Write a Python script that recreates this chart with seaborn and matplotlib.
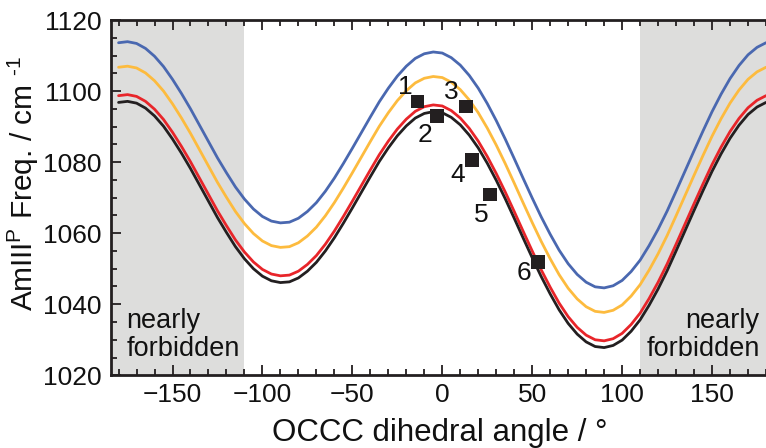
import matplotlib
matplotlib.use("Agg")
import matplotlib.pyplot as plt
from matplotlib.ticker import MultipleLocator
import pandas as pd
import seaborn as sns

# OCCC dihedral angle grid (degrees)
angle = list(range(-180, 185, 5))

freq_blue = [
    1113.6, 1113.9, 1113.4, 1112.0, 1109.8, 1106.9, 1103.3, 1099.3, 1095.0, 1090.4,
    1085.8, 1081.2, 1077.0, 1073.0, 1069.6, 1066.8, 1064.7, 1063.4, 1062.9, 1063.1,
    1064.2, 1066.1, 1068.6, 1071.8, 1075.5, 1079.6, 1083.9, 1088.3, 1092.7, 1097.0,
    1100.8, 1104.2, 1107.0, 1109.2, 1110.5, 1111.0, 1110.7, 1109.4, 1107.3, 1104.4,
    1100.8, 1096.5, 1091.7, 1086.5, 1081.0, 1075.4, 1069.9, 1064.6, 1059.7, 1055.2,
    1051.4, 1048.4, 1046.2, 1044.9, 1044.6, 1045.2, 1046.7, 1049.2, 1052.4, 1056.5,
    1061.1, 1066.2, 1071.8, 1077.5, 1083.2, 1088.8, 1094.2, 1099.1, 1103.5, 1107.2,
    1110.2, 1112.3, 1113.6,
]
freq_orange = [
    1106.7, 1107.0, 1106.5, 1105.1, 1102.9, 1100.0, 1096.4, 1092.4, 1088.1, 1083.5,
    1078.9, 1074.3, 1070.1, 1066.1, 1062.7, 1059.9, 1057.8, 1056.5, 1056.0, 1056.2,
    1057.3, 1059.2, 1061.7, 1064.9, 1068.6, 1072.7, 1077.0, 1081.4, 1085.8, 1090.1,
    1093.9, 1097.3, 1100.1, 1102.3, 1103.6, 1104.1, 1103.8, 1102.5, 1100.4, 1097.5,
    1093.9, 1089.6, 1084.8, 1079.6, 1074.1, 1068.5, 1063.0, 1057.7, 1052.8, 1048.3,
    1044.5, 1041.5, 1039.3, 1038.0, 1037.7, 1038.3, 1039.8, 1042.3, 1045.5, 1049.6,
    1054.2, 1059.3, 1064.9, 1070.6, 1076.3, 1081.9, 1087.3, 1092.2, 1096.6, 1100.3,
    1103.3, 1105.4, 1106.7,
]
freq_red = [
    1098.7, 1099.0, 1098.5, 1097.1, 1094.9, 1092.0, 1088.4, 1084.4, 1080.1, 1075.5,
    1070.9, 1066.3, 1062.1, 1058.1, 1054.7, 1051.9, 1049.8, 1048.5, 1048.0, 1048.2,
    1049.3, 1051.2, 1053.7, 1056.9, 1060.6, 1064.7, 1069.0, 1073.4, 1077.8, 1082.1,
    1085.9, 1089.3, 1092.1, 1094.3, 1095.6, 1096.1, 1095.8, 1094.5, 1092.4, 1089.5,
    1085.9, 1081.6, 1076.8, 1071.6, 1066.1, 1060.5, 1055.0, 1049.7, 1044.8, 1040.3,
    1036.5, 1033.5, 1031.3, 1030.0, 1029.7, 1030.3, 1031.8, 1034.3, 1037.5, 1041.6,
    1046.2, 1051.3, 1056.9, 1062.6, 1068.3, 1073.9, 1079.3, 1084.2, 1088.6, 1092.3,
    1095.3, 1097.4, 1098.7,
]
freq_black = [
    1096.8, 1097.1, 1096.6, 1095.2, 1093.0, 1090.1, 1086.5, 1082.5, 1078.2, 1073.6,
    1069.0, 1064.4, 1060.2, 1056.2, 1052.8, 1050.0, 1047.9, 1046.6, 1046.1, 1046.3,
    1047.4, 1049.3, 1051.8, 1055.0, 1058.7, 1062.8, 1067.1, 1071.5, 1075.9, 1080.2,
    1084.0, 1087.4, 1090.2, 1092.4, 1093.7, 1094.2, 1093.9, 1092.6, 1090.5, 1087.6,
    1084.0, 1079.7, 1074.9, 1069.7, 1064.2, 1058.6, 1053.1, 1047.8, 1042.9, 1038.4,
    1034.6, 1031.6, 1029.4, 1028.1, 1027.8, 1028.4, 1029.9, 1032.4, 1035.6, 1039.7,
    1044.3, 1049.4, 1055.0, 1060.7, 1066.4, 1072.0, 1077.4, 1082.3, 1086.7, 1090.4,
    1093.4, 1095.5, 1096.8,
]

# measured conformers
point_id = ["1", "2", "3", "4", "5", "6"]
point_angle = [-13.8, -2.9, 13.2, 16.6, 26.6, 53.2]
point_freq = [1097.0, 1093.0, 1095.6, 1080.6, 1070.9, 1051.9]

x_ticks = [-150, -100, -50, 0, 50, 100, 150]
y_ticks = [1020, 1040, 1060, 1080, 1100, 1120]

curve_names = ["blue", "orange", "red", "black"]
curve_series = [freq_blue, freq_orange, freq_red, freq_black]
palette = {"blue": "#4a68b0", "orange": "#fdbb3e", "red": "#e8252a", "black": "#231f20"}

rows = []
for name, series in zip(curve_names, curve_series):
    for a, f in zip(angle, series):
        rows.append({"angle": a, "freq": f, "curve": name})
df = pd.DataFrame(rows)

INK = "#111111"

sns.set_theme(style="ticks")
plt.rcParams["font.family"] = ["Liberation Sans", "DejaVu Sans"]
plt.rcParams["mathtext.fontset"] = "custom"
plt.rcParams["mathtext.rm"] = "Liberation Sans"
plt.rcParams["mathtext.it"] = "Liberation Sans:italic"
plt.rcParams["mathtext.bf"] = "Liberation Sans:bold"
plt.rcParams["text.color"] = INK
plt.rcParams["axes.labelcolor"] = INK

fig = plt.figure(figsize=(7.66, 4.48), dpi=100)
ax = fig.add_axes([111 / 766, 72.7 / 448, 655 / 766, 355.3 / 448])

# forbidden regions
ax.axvspan(-200, -110, color="#dddddc", lw=0, zorder=0)
ax.axvspan(110, 200, color="#dddddc", lw=0, zorder=0)

sns.lineplot(data=df, x="angle", y="freq", hue="curve", hue_order=curve_names,
             palette=palette, linewidth=2.0, legend=False, estimator=None,
             ax=ax, zorder=3)

sns.scatterplot(x=point_angle, y=point_freq, marker="s", s=95, color="#231f20",
                edgecolor="none", linewidth=0, ax=ax, zorder=5)

label_offsets = [(-9.1, 10.8), (-8.9, -13.7), (-10.5, 10.8), (-10.3, -10.8),
                 (-6.2, -14.9), (-10.3, -8.1)]
for pid, a, f, (dx, dy) in zip(point_id, point_angle, point_freq, label_offsets):
    ax.annotate(pid, (a, f), xytext=(dx, dy), textcoords="offset points",
                ha="center", va="center", fontsize=19, color=INK, zorder=6)

ax.text(-175.5, 1031.3, "nearly\nforbidden", ha="left", va="center",
        fontsize=19.5, linespacing=1.08, color=INK)
ax.text(176.5, 1031.3, "nearly\nforbidden", ha="right", va="center",
        fontsize=19.5, linespacing=1.08, color=INK)

ax.set_xlim(-184.2, 180)
ax.set_ylim(1020, 1120)
ax.set_xticks(x_ticks)
ax.set_yticks(y_ticks)
ax.xaxis.set_minor_locator(MultipleLocator(10))
ax.yaxis.set_minor_locator(MultipleLocator(5))
ax.tick_params(which="both", direction="in", top=True, right=False,
               width=1.3, colors="#231f20", labelsize=19, labelcolor=INK)
ax.tick_params(which="major", length=7)
ax.tick_params(which="minor", length=4)
ax.tick_params(axis="x", which="major", pad=5.5, labeltop=False)
ax.tick_params(axis="y", which="major", pad=6.7)

for side in ["left", "bottom", "top"]:
    ax.spines[side].set_linewidth(2.0)
    ax.spines[side].set_color("#231f20")
ax.spines["right"].set_visible(False)

ax.set_xlabel("OCCC dihedral angle / \u00b0", fontsize=22.5, va="baseline")
ax.xaxis.set_label_coords(0.502, -0.185)
ax.set_ylabel(r"AmIII$^{\mathrm{P}}$ Freq. / cm $^{\text{-1}}$", fontsize=21.5, va="center")
ax.yaxis.set_label_coords(-0.134, 0.54)

fig.savefig("out.png", dpi=100)
